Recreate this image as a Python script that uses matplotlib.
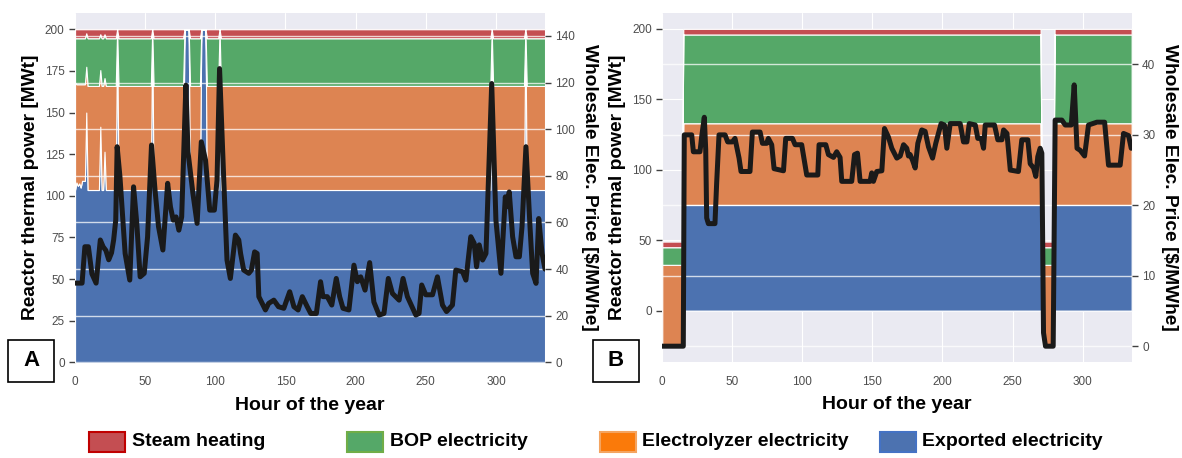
# grafico: despacho del reactor y precio de electricidad (paneles A y B)
import matplotlib.pyplot as plt
from matplotlib.patches import Rectangle

# ---- Panel A: reparto de potencia termica [MWt] ----
horas_a = [0, 1, 2, 3, 4, 5, 7, 8, 9, 17, 18, 19, 20, 21, 22, 29, 30, 31,
           54, 55, 56, 77, 78, 81, 82, 89, 90, 93, 94, 102, 103, 104,
           296, 297, 298, 320, 321, 322, 335]
exportada_a = [103.5, 108, 106, 107.5, 105, 109, 109, 150, 103.5,
               103.5, 141.5, 103.5, 103.5, 126.5, 103.5, 103.5, 200, 103.5,
               103.5, 200, 103.5, 103.5, 200, 200, 103.5, 103.5, 200, 200, 103.5,
               103.5, 200, 103.5, 103.5, 200, 103.5, 103.5, 200, 103.5, 103.5]
electrolizador_a = [64.5, 59, 61, 59.5, 62, 58, 58, 27.5, 62.5,
                    62.5, 34, 62.5, 62.5, 44.2, 62.5, 62.5, 0, 62.5,
                    62.5, 0, 62.5, 62.5, 0, 0, 62.5, 62.5, 0, 0, 62.5,
                    62.5, 0, 62.5, 62.5, 0, 62.5, 62.5, 0, 62.5, 62.5]
bop_a = [26.6, 27.6, 27.6, 27.6, 27.6, 27.6, 27.6, 20.1, 28.6,
         28.6, 21.5, 28.6, 28.6, 26.3, 28.6, 28.6, 0, 28.6,
         28.6, 0, 28.6, 28.6, 0, 0, 28.6, 28.6, 0, 0, 28.6,
         28.6, 0, 28.6, 28.6, 0, 28.6, 28.6, 0, 28.6, 28.6]
vapor_a = [5.4, 5.4, 5.4, 5.4, 5.4, 5.4, 5.4, 2.4, 5.4,
           5.4, 3, 5.4, 5.4, 3, 5.4, 5.4, 0, 5.4,
           5.4, 0, 5.4, 5.4, 0, 0, 5.4, 5.4, 0, 0, 5.4,
           5.4, 0, 5.4, 5.4, 0, 5.4, 5.4, 0, 5.4, 5.4]

# precio mayorista [$/MWhe], panel A
horas_precio_a = [0, 5, 7, 9.5, 12, 15, 18, 20, 22, 24, 26, 27.5, 29, 30, 32,
                  35.7, 39, 41.7, 44, 46.4, 49.3, 51.7, 54.5, 57, 59.5, 62.6, 66,
                  68, 70, 72, 74, 76, 79, 80.5, 84, 87, 90, 93, 96, 99.3, 101.2,
                  103, 106, 108.3, 110.7, 114.3, 116.7, 118, 120.2, 123.8, 125.7,
                  128, 129.8, 131, 135.7, 138, 141.7, 145, 148.8, 153, 156, 159,
                  162, 165.5, 168, 172, 175, 176.7, 179.8, 183, 186.2, 188.6, 191,
                  195.2, 198.8, 201.2, 203.6, 206.7, 210, 213, 216.7, 220.2, 223.3,
                  226.2, 231, 233.8, 236.9, 242.9, 245.2, 247.1, 250, 254.8, 258.3,
                  261.9, 264.8, 269, 271.4, 276.2, 278.6, 282.1, 284.5, 286.2,
                  288.1, 290.5, 292.9, 297, 300, 303.6, 306.7, 307.6, 309.5, 311.9,
                  314.3, 316.7, 318.6, 321.4, 324.3, 326.2, 328.6, 330.5, 332.9, 335]
precio_a = [34, 34, 49.6, 49.6, 38, 34, 52.5, 49.6, 48, 44, 47, 52.5, 61, 92.5, 79.6,
            46.7, 35.3, 75.3, 59.6, 36.7, 38.2, 53.9, 93.2, 73.9, 58.2, 48.2, 76.8,
            66.7, 61, 62.4, 56.7, 62.4, 118.9, 90.3, 72.5, 59.6, 94.6, 86.8, 65.3, 65.3, 78.2,
            126, 78.2, 43.9, 36, 54.6, 52.5, 46.7, 39.6, 38.2, 39.6,
            47.4, 46.7, 28.2, 22.5, 25.3, 26.7, 23.9, 23.2, 30.3, 23.9, 22.5,
            28.2, 23.9, 21, 21, 34.6, 28.2, 28.2, 24.6, 36, 28.2, 23.2,
            22.5, 41.7, 34.6, 36.7, 31, 42.8, 25.9, 20.3, 21, 36,
            29.6, 26.7, 36, 28.2, 20.3, 21, 33.2, 29, 29, 36.7,
            24.6, 21.8, 24.6, 39.6, 38.9, 35.3, 53.9, 51.1, 41,
            50.4, 43.9, 46.7, 119.6, 61, 38.2, 71, 66.7, 73.1, 53.9,
            45.3, 45.3, 58.2, 92.5, 58.2, 38.2, 33.9, 61.7, 46.7, 40]

# ---- Panel B ----
horas_b = [0, 14, 15, 270, 271, 279, 280, 335]
exportada_b = [-25, -25, 75, 75, -25, -25, 75, 75]
electrolizador_b = [57.5, 57.5, 58, 58, 57.5, 57.5, 58, 58]
bop_b = [12.5, 12.5, 63, 63, 12.5, 12.5, 63, 63]
vapor_b = [4, 4, 4, 4, 4, 4, 4, 4]

horas_precio_b = [0, 15, 15.7, 21, 22.2, 26.9, 28.1, 30, 31, 31.7, 32.9, 37.6, 38.8,
                  40.5, 44.8, 46.7, 50, 51.9, 54.8, 56.2, 62.6, 64.3, 69.8, 71.5,
                  74.5, 75.7, 78.1, 79.8, 86.5, 88.1, 92.9, 94.8, 99.5, 103.1, 111,
                  111.9, 116.7, 118.6, 122.2, 124.5, 126.9, 128.1, 135.2, 137.2, 139.3,
                  141.2, 148.3, 149.5, 150.7, 153.1, 156.7, 158.6, 161.4, 163.8, 167.4,
                  169.8, 172.2, 174.5, 175.7, 176.9, 178.6, 180.5, 182.4, 185.2, 187.6,
                  190, 192.9, 195.2, 199, 201.4, 203.1, 205.5, 212.6, 215, 217.4, 219.1,
                  223.4, 225.2, 227.6, 229.3, 230.5, 237.1, 239.5, 242.4, 243.6, 246,
                  248.4, 254.2, 256.6, 260.9, 262.6, 265, 266.6, 268, 269.7, 270.9,
                  272.1, 273.5, 279, 280.4, 285.2, 287.6, 291.9, 294, 296, 298.3, 301.4,
                  304.2, 310.2, 315.7, 318.5, 326.8, 329.2, 332.8, 334.7]
precio_b = [0, 0, 30, 30, 27.6, 27.6, 29.7, 32.5, 27.9, 18.2, 17.4, 17.4, 23.1,
            30, 30, 29, 29, 29.5, 26.7, 24.8, 24.8, 30.4, 30.4, 28.8,
            28.8, 29.5, 28.6, 25.2, 24.9, 29.5, 29.5, 28.6, 28.6, 24.3, 24.3,
            28.6, 28.6, 27.2, 26.8, 27.6, 26.8, 23.4, 23.4, 27.2, 27.4,
            23.4, 23.4, 24.6, 23.4, 24.8, 24.9, 30.9, 29.7, 28.1, 26.7,
            27, 28.6, 28.1, 27, 27.2, 26.4, 25.3, 28.8, 30.7, 30.5,
            28.3, 26.7, 28.8, 31.6, 31.4, 28.1, 31.6, 31.6, 29, 29, 31.6,
            31.4, 29.5, 29.5, 28.1, 31.4, 31.4, 29.3, 29.3, 30.7, 30.2,
            25, 24.8, 29.3, 29.3, 25.9, 25.3, 24.1, 26.9, 28.1, 27.4,
            1.9, 0, 0, 32.1, 32.1, 31.4, 31.4, 37.1, 28.1, 27.8, 27,
            31.4, 31.8, 31.8, 25.7, 25.7, 30.2, 29.9, 28.1]

colores = ["#4C72B0", "#DD8452", "#55A868", "#C44E52"]
etiquetas = ["Steam heating", "BOP electricity", "Electrolyzer electricity",
             "Exported electricity"]

plt.style.use("seaborn-v0_8-darkgrid")
plt.rcParams["font.family"] = ["Liberation Sans", "DejaVu Sans"]
plt.rcParams["text.color"] = "black"
plt.rcParams["axes.labelcolor"] = "black"

fig = plt.figure(figsize=(11.82, 4.58), dpi=100)
ax_a = fig.add_axes([0.0635, 0.2087, 0.3976, 0.7638])
ax_b = fig.add_axes([0.5603, 0.2103, 0.3971, 0.7613])


def panel(ax, horas, capas, horas_p, precio, ylim_izq, ylim_der, ticks_der):
    ax.stackplot(horas, *capas, colors=colores, edgecolor="white", linewidth=0.8)
    ax.set_xlim(0, 335)
    ax.set_ylim(*ylim_izq)
    ax.set_xticks(range(0, 301, 50))
    ax.tick_params(axis="y", left=True, length=4, width=1, color="0.25",
                   labelsize=8.5, labelcolor="0.3")
    ax.tick_params(axis="x", length=0, pad=10, labelsize=8.5, labelcolor="0.3")
    ax.set_xlabel("Hour of the year", fontsize=14, fontweight="bold", labelpad=6)
    ax.set_ylabel("Reactor thermal power [MWt]", fontsize=13.8, fontweight="bold",
                  labelpad=4)

    ax2 = ax.twinx()
    ax2.plot(horas_p, precio, color="#1a1a1a", linewidth=3.6)
    ax2.set_ylim(*ylim_der)
    ax2.set_yticks(ticks_der)
    ax2.grid(True, axis="y", color="white", linewidth=1.0, alpha=0.75)
    ax2.tick_params(axis="y", right=True, length=4, width=1, color="0.25",
                    labelsize=8.5, labelcolor="0.3")
    ax2.set_ylabel(r"Wholesale Elec. Price [\$/MWhe]", fontsize=13.8,
                   fontweight="bold", rotation=270, va="bottom", labelpad=4)
    return ax2


panel(ax_a, horas_a, [exportada_a, electrolizador_a, bop_a, vapor_a],
      horas_precio_a, precio_a, (0, 210), (0, 150), range(0, 141, 20))
panel(ax_b, horas_b, [exportada_b, electrolizador_b, bop_b, vapor_b],
      horas_precio_b, precio_b, (-36.25, 211.25), (-2.2, 47.3), range(0, 41, 10))

# etiquetas de panel en recuadro
for x0, letra in [(8, "A"), (593, "B")]:
    fig.patches.append(Rectangle((x0 / 1182, 76 / 458), 46 / 1182, 42 / 458,
                                 transform=fig.transFigure, facecolor="white",
                                 edgecolor="black", linewidth=1.2))
    fig.text((x0 + 23) / 1182, 97 / 458, letra, ha="center", va="center",
             fontsize=16, fontweight="bold")

# leyenda manual abajo
leyenda = [(89, 132, "#C44E52", "#C00000"),
           (347, 390, "#55A868", "#70AD47"),
           (600, 642, "#FA7A0A", "#F4A460"),
           (880, 922, "#4C72B0", "#4472C4")]
for (x0, xt, cara, borde), texto in zip(leyenda, etiquetas):
    fig.patches.append(Rectangle((x0 / 1182, 6 / 458), 36 / 1182, 20 / 458,
                                 transform=fig.transFigure, facecolor=cara,
                                 edgecolor=borde, linewidth=1.5))
    fig.text(xt / 1182, 16 / 458, texto, ha="left", va="center", fontsize=14,
             fontweight="bold")

plt.savefig("out.png", dpi=100)
